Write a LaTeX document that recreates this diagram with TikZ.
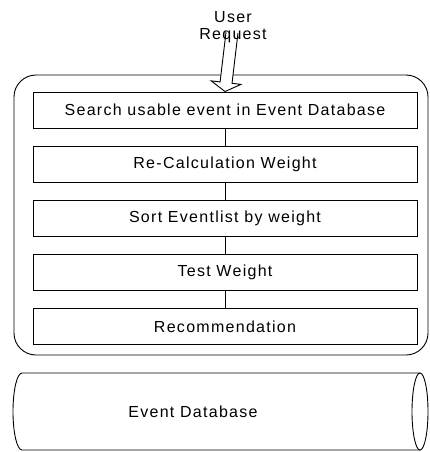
\documentclass[tikz,border=0pt]{standalone}
\usepackage{fontspec}
\setmainfont[LetterSpace=8]{Liberation Sans}
\usetikzlibrary{calc,positioning}

\begin{document}
\begin{tikzpicture}[x=1pt, y=-1pt, line width=0.9pt, font=\fontsize{16}{17}\selectfont,
  stepbox/.style={draw, rectangle, minimum width=384pt, minimum height=36.5pt, inner sep=0pt}]

\useasboundingbox (0,0) rectangle (429,452);

% Outer frame
\draw[rounded corners=22pt] (14,75) rectangle (428,355);

% Steps
\node[stepbox] (search) at (225,110.25) {Search usable event in Event Database};
\node[stepbox, below=16.7pt of search] (recalc) {Re-Calculation Weight};
\node[stepbox, below=16.7pt of recalc] (sortlist) {Sort Eventlist by weight};
\node[stepbox, below=16.7pt of sortlist] (testw) {Test Weight};
\node[stepbox, below=16.7pt of testw] (recom) {Recommendation};

\foreach \a/\b in {search/recalc, recalc/sortlist, sortlist/testw, testw/recom}
  \draw (\a) -- (\b);

% Hollow input arrow
\coordinate (arrtop) at ($(search.north)+(7,-59)$);
\coordinate (hb) at ($(search.north)!9pt!(arrtop)$);
\draw[fill=white] ($(arrtop)!6pt!90:(search.north)$) -- ($(hb)!6pt!90:(search.north)$)
  -- ($(hb)!15pt!90:(search.north)$) -- (search.north)
  -- ($(hb)!15pt!-90:(search.north)$) -- ($(hb)!6pt!-90:(search.north)$)
  -- ($(arrtop)!6pt!-90:(search.north)$);

% Labels
\node[align=center, inner sep=0pt] (user) at ($(arrtop)+(1,-5)$) {User\\Request};

% Database
\coordinate (dbtl) at (22,373);
\coordinate (dbtr) at (420,373);
\coordinate (dbbr) at (420,450);
\draw (dbtr) -- (dbtl) arc[start angle=90, end angle=270, x radius=9pt, y radius=38.5pt] -- (dbbr);
\draw ($(dbtr)!0.5!(dbbr)$) ellipse[x radius=8pt, y radius=38.5pt];
\node (dblabel) at (193,411.5) {Event Database};
\end{tikzpicture}
\end{document}
